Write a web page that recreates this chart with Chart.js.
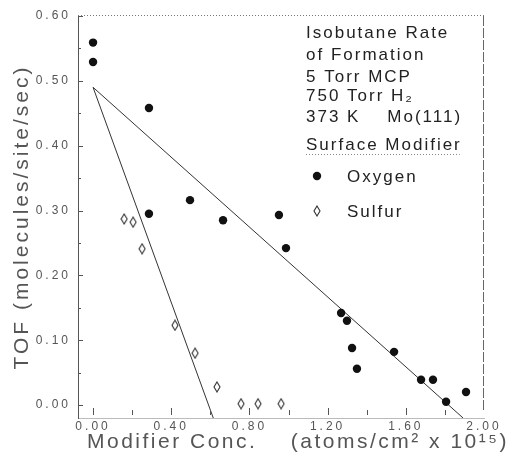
<!DOCTYPE html>
<html><head><meta charset="utf-8">
<script src="https://cdn.jsdelivr.net/npm/chart.js@4.4.1/dist/chart.umd.min.js"></script>
<style>html,body{margin:0;padding:0;background:#fff;} canvas{display:block;}</style>
</head><body>
<canvas id="c" width="518" height="464"></canvas>
<script>
// ---- data ----
const X_TICKS = [0, 0.4, 0.8, 1.2, 1.6, 2.0];
const Y_TICKS = [0, 0.1, 0.2, 0.3, 0.4, 0.5, 0.6];
const OXYGEN_CONC = [0, 0, 0.286, 0.286, 0.496, 0.665, 0.951, 0.987, 1.269, 1.299, 1.325, 1.350, 1.540, 1.678, 1.739, 1.806, 1.908];
const OXYGEN_TOF  = [0.559, 0.529, 0.458, 0.295, 0.316, 0.285, 0.293, 0.242, 0.142, 0.130, 0.088, 0.056, 0.082, 0.039, 0.039, 0.005, 0.020];
const SULFUR_CONC = [0.159, 0.205, 0.251, 0.419, 0.522, 0.634, 0.757, 0.844, 0.962];
const SULFUR_TOF  = [0.287, 0.282, 0.241, 0.123, 0.080, 0.028, 0.002, 0.002, 0.002];
const OXYGEN_FIT_CONC = [0.0, 1.893];
const OXYGEN_FIT_TOF  = [0.49, -0.02];
const SULFUR_FIT_CONC = [0.0, 0.615];
const SULFUR_FIT_TOF  = [0.49, -0.02];
const SERIES_NAMES = ['Oxygen', 'Sulfur'];
const INFO_LINES = ['Isobutane Rate', 'of Formation', '5 Torr MCP', '750 Torr H₂', '373 K    Mo(111)'];
const LEGEND_TITLE = 'Surface Modifier';
const X_TITLE = 'Modifier Conc.    (atoms/cm² x 10¹⁵)';
const Y_TITLE = 'TOF (molecules/site/sec)';

const FONT = '"Liberation Sans", Arial, sans-serif';
const pts = (xs, ys) => xs.map((x, i) => ({x, y: ys[i]}));

function makeDiamond(w, h, color) {
  const c = document.createElement('canvas');
  c.width = w + 2; c.height = h + 2;
  const g = c.getContext('2d');
  g.strokeStyle = color; g.lineWidth = 1.1;
  g.beginPath();
  g.moveTo(c.width / 2, 1); g.lineTo(c.width - 1, c.height / 2);
  g.lineTo(c.width / 2, c.height - 1); g.lineTo(1, c.height / 2);
  g.closePath(); g.stroke();
  return c;
}
const diamond = makeDiamond(6, 10, '#333');

const spacing = {
  id: 'spacing',
  beforeUpdate(chart) { chart.ctx.letterSpacing = '3px'; },
  beforeDraw(chart) { chart.ctx.letterSpacing = '3px'; }
};

const frame = {
  id: 'frame',
  afterDraw(chart) {
    const {ctx, chartArea: a} = chart;
    const xs = chart.scales.x, ys = chart.scales.y;
    ctx.save();
    ctx.lineWidth = 1;
    // top dotted border
    ctx.strokeStyle = '#777';
    ctx.setLineDash([1, 2]);
    ctx.beginPath(); ctx.moveTo(a.left, a.top - 0.5); ctx.lineTo(a.right, a.top - 0.5); ctx.stroke();
    // right border
    ctx.setLineDash([10, 2]);
    ctx.strokeStyle = '#666';
    ctx.beginPath(); ctx.moveTo(a.right - 0.5, a.top); ctx.lineTo(a.right - 0.5, a.bottom - 6); ctx.stroke();
    ctx.setLineDash([]);
    // inward tick marks
    ctx.strokeStyle = '#555';
    ctx.beginPath();
    for (let k = 0; k <= 12; k++) {
      const v = k * 0.05;
      const py = Math.round(ys.getPixelForValue(v)) + 0.5;
      ctx.moveTo(a.left, py); ctx.lineTo(a.left + (k % 2 === 0 ? 5 : 3), py);
    }
    for (let k = 0; k <= 9; k++) {
      const v = k * 0.2;
      const px = Math.round(xs.getPixelForValue(v)) + 0.5;
      ctx.moveTo(px, a.bottom - 3); ctx.lineTo(px, a.bottom - (k % 2 === 0 ? 10 : 8));
    }
    ctx.stroke();

    // x-axis title
    ctx.letterSpacing = '2.5px';
    ctx.font = '21px ' + FONT;
    ctx.fillStyle = '#555';
    ctx.textAlign = 'left';
    ctx.textBaseline = 'alphabetic';
    ctx.fillText(X_TITLE, a.left + 9, a.bottom + 30);

    // annotation / legend block
    ctx.letterSpacing = '2px';
    ctx.font = '17px ' + FONT;
    ctx.fillStyle = '#222';
    const x0 = a.left + 228;
    const offs = [22, 44, 66, 85, 106];
    INFO_LINES.forEach((t, i) => ctx.fillText(t, x0, a.top + offs[i]));
    ctx.fillText(LEGEND_TITLE, x0, a.top + 134);
    const w = ctx.measureText(LEGEND_TITLE).width - 2;
    ctx.strokeStyle = '#888';
    ctx.setLineDash([1, 2]);
    ctx.beginPath(); ctx.moveTo(x0, a.top + 138.5); ctx.lineTo(x0 + w, a.top + 138.5); ctx.stroke();
    ctx.setLineDash([]);
    const rows = [a.top + 160, a.top + 195];
    ctx.textBaseline = 'middle';
    [0, 1].forEach(i => {
      const ds = chart.data.datasets[i];
      const mx = a.left + 239, my = rows[i];
      ctx.fillStyle = ds.backgroundColor;
      if (typeof ds.pointStyle === 'string') {
        ctx.beginPath(); ctx.arc(mx, my, ds.pointRadius, 0, Math.PI * 2); ctx.fill();
      } else {
        ctx.drawImage(ds.pointStyle, mx - ds.pointStyle.width / 2, my - ds.pointStyle.height / 2);
      }
      ctx.fillStyle = '#222';
      ctx.fillText(ds.label, a.left + 269, my + 1);
    });
    ctx.restore();
  }
};

new Chart(document.getElementById('c'), {
  data: {
    datasets: [
      { type: 'scatter', label: SERIES_NAMES[0], data: pts(OXYGEN_CONC, OXYGEN_TOF),
        pointStyle: 'circle', pointRadius: 4.2, backgroundColor: '#111', borderWidth: 0 },
      { type: 'scatter', label: SERIES_NAMES[1], data: pts(SULFUR_CONC, SULFUR_TOF),
        pointStyle: diamond, pointRadius: 5, backgroundColor: '#333', borderWidth: 0 },
      { type: 'line', label: 'Oxygen fit', data: pts(OXYGEN_FIT_CONC, OXYGEN_FIT_TOF),
        borderColor: '#333', borderWidth: 1, pointRadius: 0, fill: false },
      { type: 'line', label: 'Sulfur fit', data: pts(SULFUR_FIT_CONC, SULFUR_FIT_TOF),
        borderColor: '#333', borderWidth: 1, pointRadius: 0, fill: false }
    ]
  },
  options: {
    responsive: false, animation: false, devicePixelRatio: 1,
    layout: { padding: { top: 16, right: 34, left: 0, bottom: 0 } },
    plugins: { legend: { display: false }, tooltip: { enabled: false } },
    scales: {
      x: {
        type: 'linear', min: -0.077, max: 2.0,
        afterBuildTicks: s => { s.ticks = X_TICKS.map(v => ({ value: v })); },
        afterFit: s => { s.height = 46; },
        ticks: { callback: v => Number(v).toFixed(2), font: { family: FONT, size: 12 }, color: '#555',
                 padding: 1, maxRotation: 0, autoSkip: false },
        grid: { display: false, drawOnChartArea: false, drawTicks: false },
        border: { display: true, color: '#bbb', width: 1 },
        title: { display: false, text: X_TITLE }
      },
      y: {
        type: 'linear', min: -0.02, max: 0.6,
        afterBuildTicks: s => { s.ticks = Y_TICKS.map(v => ({ value: v })); },
        afterFit: s => { s.width = 78; },
        ticks: { callback: v => Number(v).toFixed(2), font: { family: FONT, size: 12 }, color: '#555',
                 padding: 7, autoSkip: false },
        grid: { display: false, drawOnChartArea: false, drawTicks: false },
        border: { display: true, color: '#555', width: 1 },
        title: { display: true, text: Y_TITLE, font: { family: FONT, size: 21 }, color: '#555',
                 padding: { top: 10, bottom: 0 } }
      }
    }
  },
  plugins: [spacing, frame]
});
</script>
</body></html>
